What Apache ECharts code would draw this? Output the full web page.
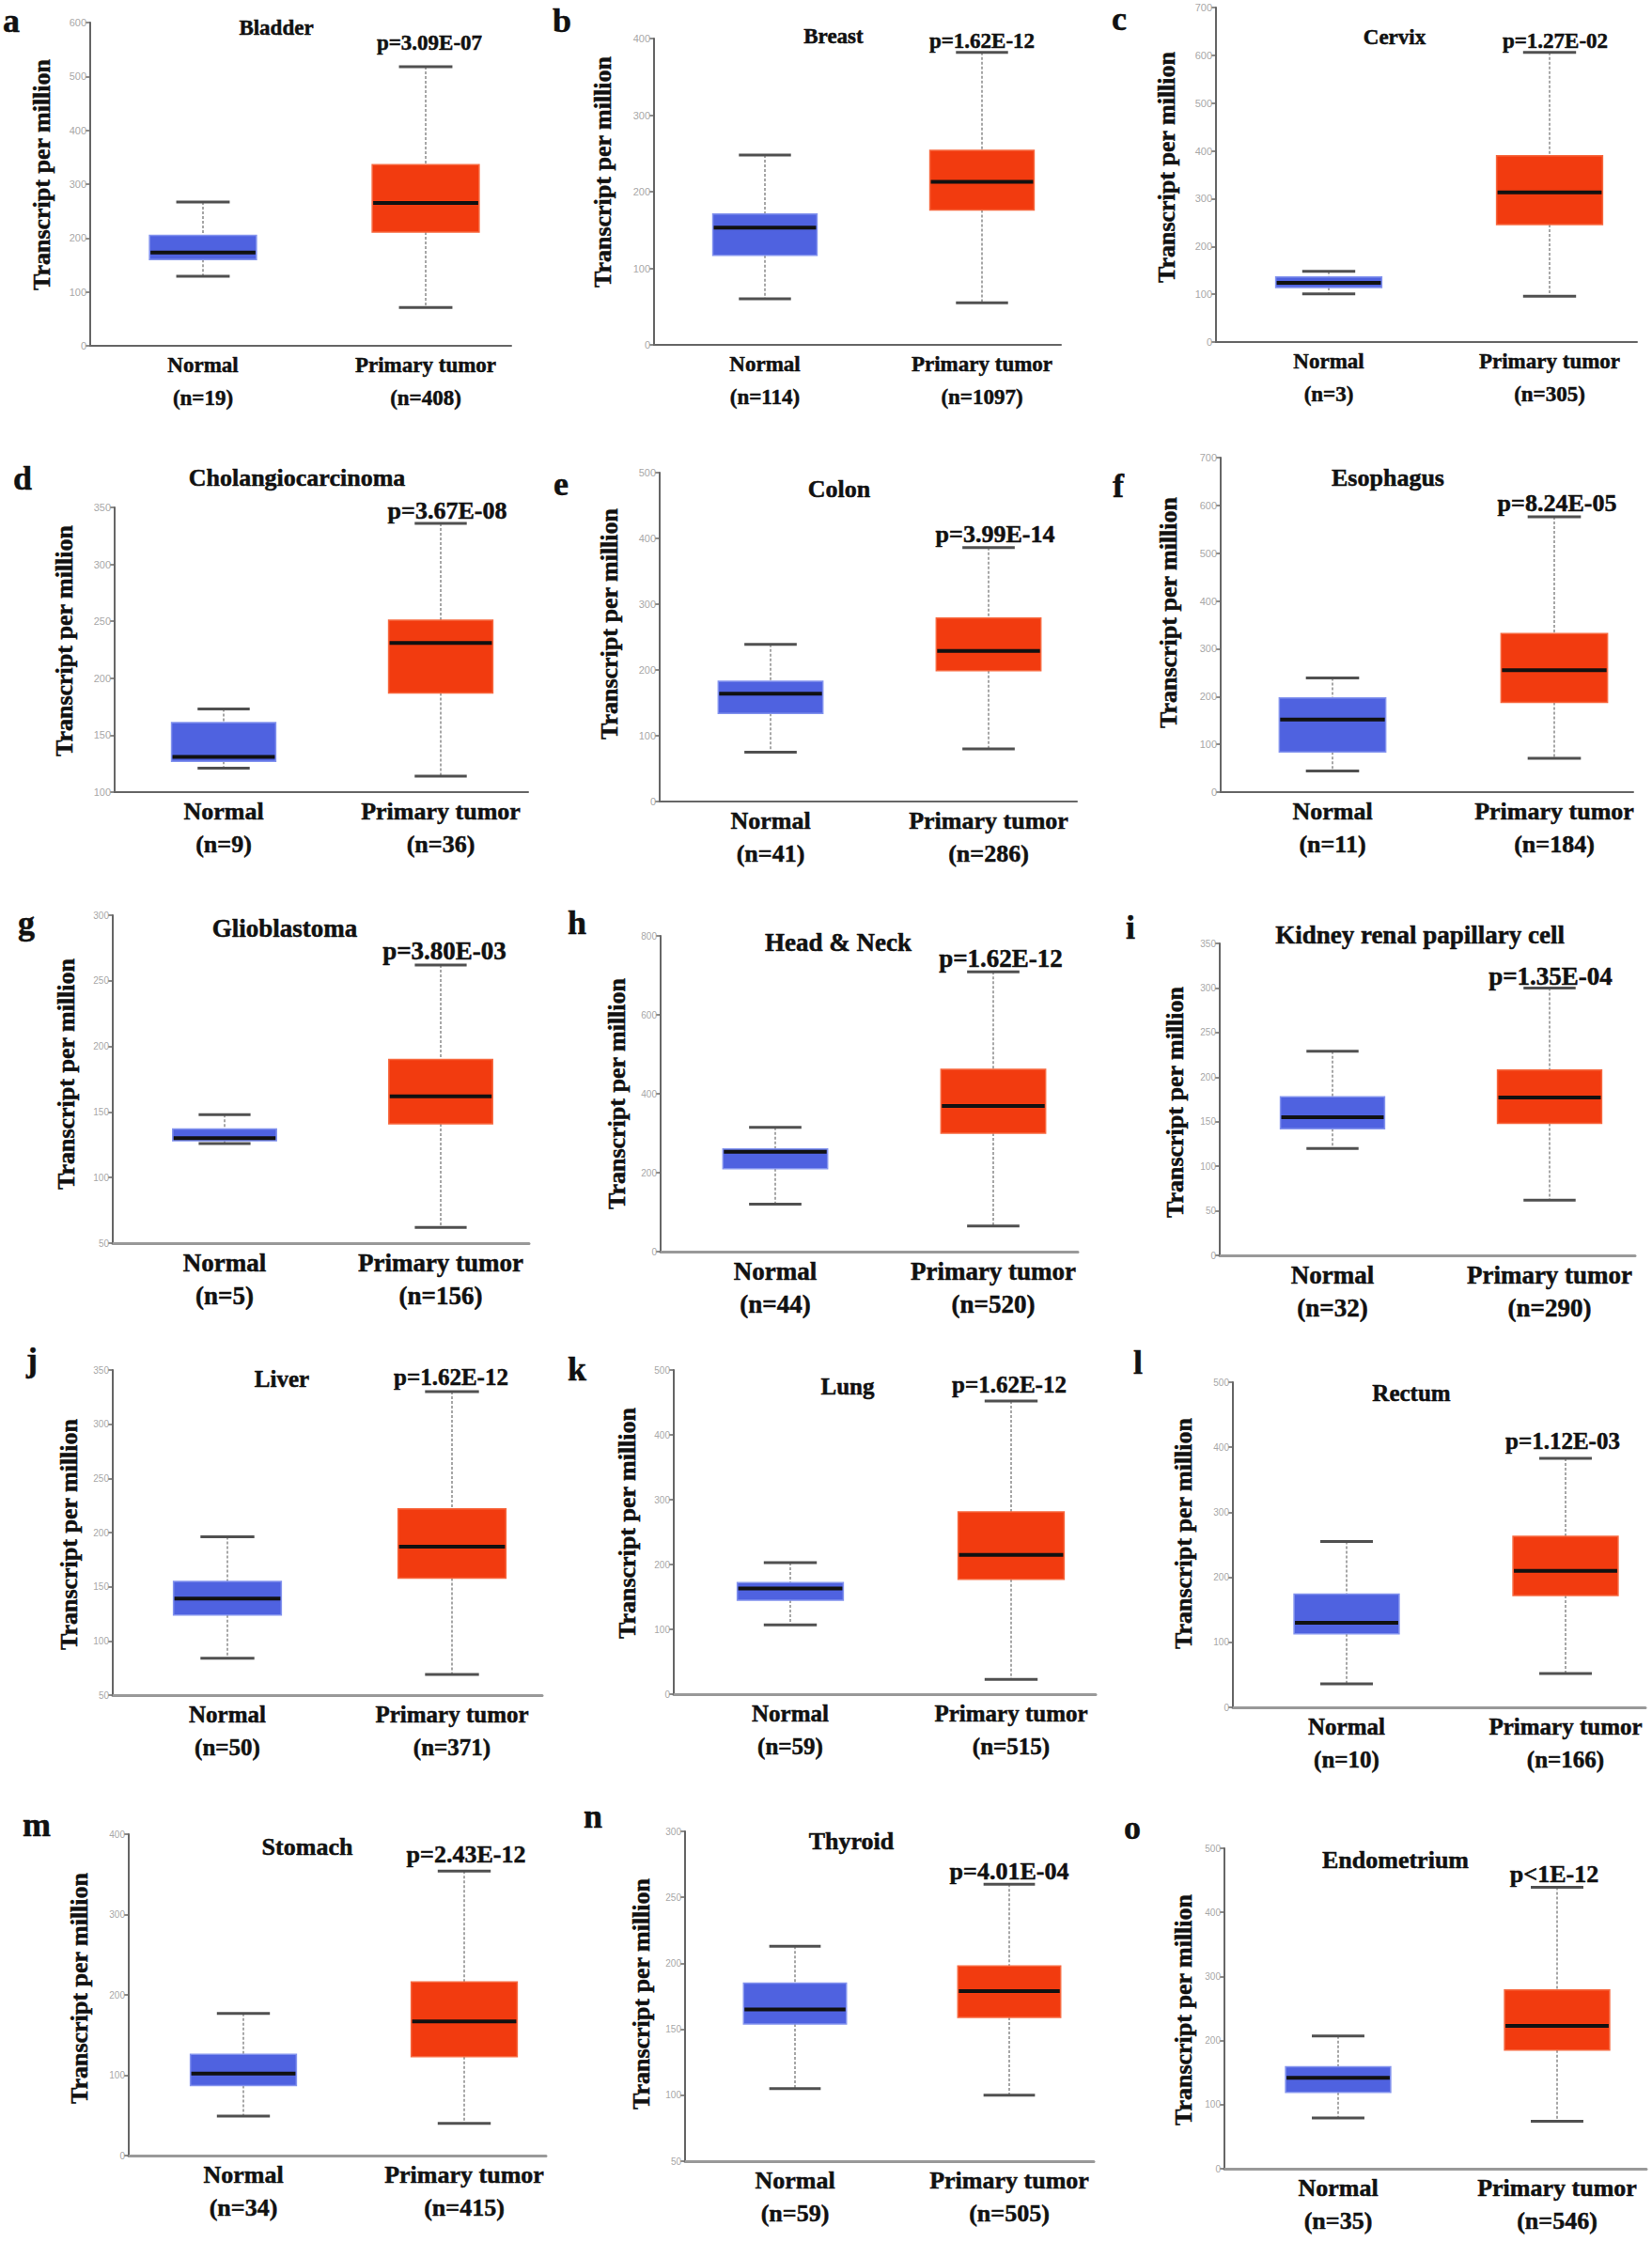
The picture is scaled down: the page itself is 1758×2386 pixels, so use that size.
<!DOCTYPE html>
<html><head><meta charset="utf-8">
<script src="https://cdn.jsdelivr.net/npm/echarts@6/dist/echarts.min.js"></script>
<style>html,body{margin:0;padding:0;background:#fff}#chart{width:1758px;height:2386px}</style>
</head><body><div id="chart"></div>
<script>
// ---------------- DATA ----------------
const panelLetters = ['a','b','c','d','e','f','g','h','i','j','k','l','m','n','o'];
const tissues = ['Bladder','Breast','Cervix','Cholangiocarcinoma','Colon','Esophagus','Glioblastoma','Head & Neck','Kidney renal papillary cell','Liver','Lung','Rectum','Stomach','Thyroid','Endometrium'];
const pValues = ['p=3.09E-07','p=1.62E-12','p=1.27E-02','p=3.67E-08','p=3.99E-14','p=8.24E-05','p=3.80E-03','p=1.62E-12','p=1.35E-04','p=1.62E-12','p=1.62E-12','p=1.12E-03','p=2.43E-12','p=4.01E-04','p<1E-12'];
const categories = ['Normal','Primary tumor'];
const normalN = [19,114,3,9,41,11,5,44,32,50,59,10,34,59,35];
const tumorN  = [408,1097,305,36,286,184,156,520,290,371,515,166,415,505,546];
// [lower whisker, Q1, median, Q3, upper whisker]
const normalStats = [
  [129,160,173,205,267],[60,117,153,171,248],[101,114,124,136,148],
  [121,127,131,161,173],[75,134,164,183,239],[44,84,152,197,239],
  [126,128,130,137,148],[120,210,253,260,315],[120,142,155,178,229],
  [84,124,139,155,196],[107,145,163,172,203],[36,113,130,174,255],
  [49,87,102,126,177],[105,154,165,185,213],[79,119,142,159,207]
];
const tumorStats = [
  [71,211,265,336,518],[55,176,213,254,382],[96,246,313,390,606],
  [114,187,231,251,336],[80,199,229,279,386],[71,188,255,332,576],
  [62,141,162,190,262],[65,300,369,462,709],[62,148,177,208,300],
  [69,158,187,222,330],[23,177,215,281,452],[52,172,210,263,383],
  [40,123,167,216,354],[100,159,179,198,260],[74,185,223,279,439]
];
const yMin  = [0,0,0,100,0,0,50,0,0,50,0,0,0,50,0];
const yMax  = [600,400,700,350,500,700,300,800,350,350,500,500,400,300,500];
const yStep = [100,100,100,50,100,100,50,200,50,50,100,100,100,50,100];
const yAxisTitle = 'Transcript per million';

// ---------------- LAYOUT (pixels) ----------------
// L: y-axis x, E: x-axis end, N/Tc: centres of the two boxes, T/B: top/bottom of value range
const layout = [
 {L:96,  E:544,  N:216,  Tc:453,  T:24,   B:368,  letter:[12,22],    title:[294,29],    p:[457,45],    yt:[44,186],    fs:23},
 {L:696, E:1129, N:814,  Tc:1045, T:41,   B:367,  letter:[598,22],   title:[887,38],    p:[1045,43],   yt:[641,183],   fs:23},
 {L:1294,E:1742, N:1414, Tc:1649, T:8,    B:364,  letter:[1191,20],  title:[1484,39],   p:[1655,43],   yt:[1241,178],  fs:23},
 {L:122, E:562,  N:238,  Tc:469,  T:540,  B:843,  letter:[24,509],   title:[316,508],   p:[476,543],   yt:[68,682],    fs:26},
 {L:702, E:1146, N:820,  Tc:1052, T:503,  B:853,  letter:[597,515],  title:[893,520],   p:[1059,568],  yt:[648,664],   fs:26},
 {L:1299,E:1738, N:1418, Tc:1654, T:487,  B:843,  letter:[1190,517], title:[1477,508],  p:[1657,535],  yt:[1243,652],  fs:26},
 {L:120, E:563,  N:239,  Tc:469,  T:974,  B:1323, letter:[28,982],   title:[303,988],   p:[473,1012],  yt:[70,1143],   fs:27},
 {L:703, E:1147, N:825,  Tc:1057, T:996,  B:1332, letter:[614,982],  title:[892,1003],  p:[1065,1020], yt:[656,1164],  fs:27},
 {L:1298,E:1740, N:1418, Tc:1649, T:1004, B:1336, letter:[1203,987], title:[1511,995],  p:[1650,1039], yt:[1250,1173], fs:27},
 {L:120, E:577,  N:242,  Tc:481,  T:1458, B:1804, letter:[34,1447],  title:[300,1467],  p:[480,1465],  yt:[73,1633],   fs:25},
 {L:717, E:1166, N:841,  Tc:1076, T:1458, B:1803, letter:[614,1457], title:[902,1475],  p:[1074,1473], yt:[667,1621],  fs:25},
 {L:1312,E:1751, N:1433, Tc:1666, T:1471, B:1817, letter:[1211,1450],title:[1502,1482], p:[1663,1533], yt:[1259,1632], fs:25},
 {L:137, E:581,  N:259,  Tc:494,  T:1952, B:2294, letter:[39,1942],  title:[327,1965],  p:[496,1973],  yt:[84,2116],   fs:26},
 {L:729, E:1164, N:846,  Tc:1074, T:1949, B:2300, letter:[631,1933], title:[906,1959],  p:[1074,1991], yt:[682,2122],  fs:26},
 {L:1303,E:1752, N:1424, Tc:1657, T:1967, B:2308, letter:[1205,1945],title:[1485,1979], p:[1654,1994], yt:[1259,2139], fs:26}
];

const SERIF = '"Liberation Serif","Times New Roman",serif';
const FILL = ['#4f62e0', '#f23b0f'];
const EDGE = ['#8393ee', '#f7683f'];

function renderBox(params, api) {
  const xi = api.value(0);
  const c = i => api.coord([xi, api.value(i)]);
  const lo = c(1), q1 = c(2), md = c(3), q3 = c(4), hi = c(5);
  const unit = api.size([1, 0])[0];
  const bw = unit * 0.48, cw = bw * 0.5;
  const cx = lo[0];
  const k = params.dataIndex;
  const dash = {stroke:'#8a8a8a', lineWidth:1.5, lineDash:[3,2]};
  const cap = {stroke:'#505050', lineWidth:3};
  return {type:'group', children:[
    {type:'line', shape:{x1:cx,y1:hi[1],x2:cx,y2:q3[1]}, style:dash},
    {type:'line', shape:{x1:cx,y1:q1[1],x2:cx,y2:lo[1]}, style:dash},
    {type:'line', shape:{x1:cx-cw/2,y1:hi[1],x2:cx+cw/2,y2:hi[1]}, style:cap},
    {type:'line', shape:{x1:cx-cw/2,y1:lo[1],x2:cx+cw/2,y2:lo[1]}, style:cap},
    {type:'rect', shape:{x:cx-bw/2,y:q3[1],width:bw,height:q1[1]-q3[1]}, style:{fill:FILL[k], stroke:EDGE[k], lineWidth:1.5}},
    {type:'line', shape:{x1:cx-bw/2+1,y1:md[1],x2:cx+bw/2-1,y2:md[1]}, style:{stroke:'#111', lineWidth:4}}
  ]};
}

const grids = [], xAxes = [], yAxes = [], series = [], graphics = [];
layout.forEach((g, i) => {
  const row = Math.floor(i / 3);
  const unit = g.Tc - g.N;
  const labels = [categories[0] + '\n(n=' + normalN[i] + ')', categories[1] + '\n(n=' + tumorN[i] + ')'];
  grids.push({left:g.L, top:g.T, width:g.E - g.L, height:g.B - g.T, containLabel:false, outerBoundsMode:'none'});
  xAxes.push({
    type:'value', gridIndex:i,
    min: -(g.N - g.L) / unit, max: 1 + (g.E - g.Tc) / unit,
    splitLine:{show:false},
    axisLine:{show:true, onZero:false, lineStyle:{color: row < 2 ? '#666' : '#999', width: row < 2 ? 2 : 3}},
    axisTick:{show:false},
    axisLabel:{customValues:[0,1], formatter: v => labels[Math.round(v)],
      margin:3, lineHeight:35, fontSize:g.fs, fontWeight:'bold', fontFamily:SERIF, color:'#111',
      textBorderColor:'#111', textBorderWidth:0.5}
  });
  yAxes.push({
    type:'value', gridIndex:i, min:yMin[i], max:yMax[i], interval:yStep[i],
    axisLine:{show:true, onZero:false, lineStyle:{color:'#666', width:2}},
    axisTick:{show:true, length:5, lineStyle:{color:'#666', width:1.5}},
    axisLabel:{fontSize: row < 2 ? 11 : 10, color:'#a8a8a8', margin:4, fontFamily:'"Liberation Sans",Arial,sans-serif'},
    splitLine:{show:false}
  });
  series.push({
    type:'custom', xAxisIndex:i, yAxisIndex:i, renderItem:renderBox,
    encode:{x:0, y:[1,2,3,4,5]},
    data:[[0].concat(normalStats[i]), [1].concat(tumorStats[i])]
  });
  const txt = (pos, text, fs, extra) => Object.assign({type:'text', x:pos[0], y:pos[1],
    style:{text:text, fontSize:fs, fontWeight:'bold', fontFamily:SERIF, fill:'#111', stroke:'#111', lineWidth:0.5,
      align:'center', verticalAlign:'middle'}}, extra || {});
  graphics.push(txt(g.letter, panelLetters[i], 36));
  graphics.push(txt(g.title, tissues[i], g.fs));
  graphics.push(txt(g.p, pValues[i], g.fs));
  graphics.push(txt(g.yt, yAxisTitle, 26, {rotation: Math.PI / 2}));
});

const chart = echarts.init(document.getElementById('chart'), null, {renderer:'svg', width:1758, height:2386});
chart.setOption({
  backgroundColor:'#ffffff',
  animation:false,
  grid:grids, xAxis:xAxes, yAxis:yAxes, series:series, graphic:graphics
});
</script></body></html>
